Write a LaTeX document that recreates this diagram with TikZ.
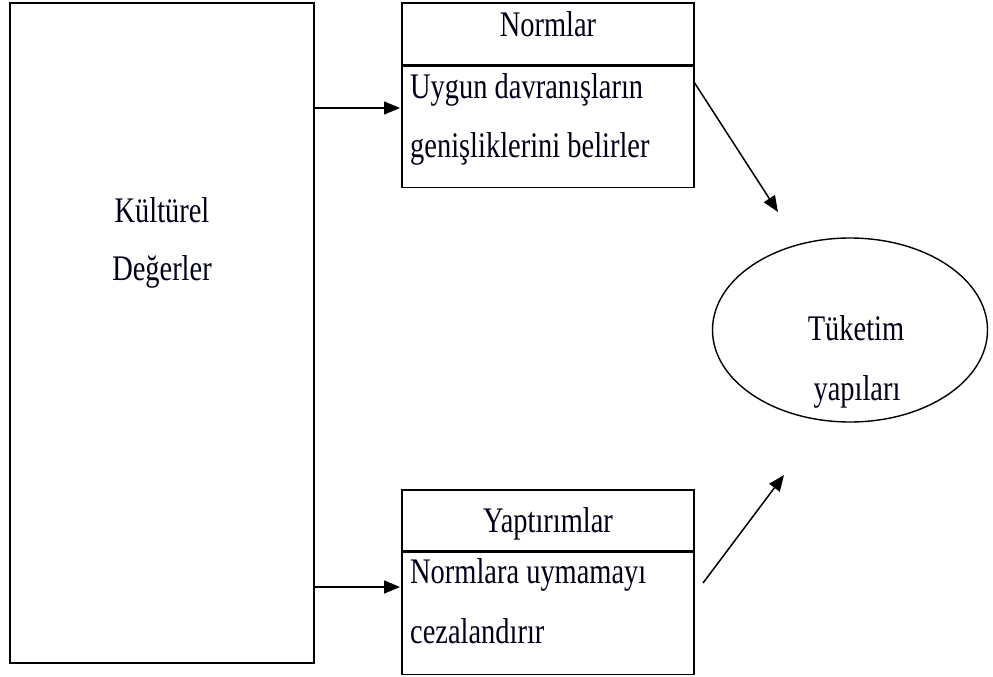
\documentclass[tikz,border=0pt]{standalone}
\usepackage{fontspec}
\setmainfont{Liberation Serif}[FakeStretch=0.79]
\usetikzlibrary{arrows.meta}
\begin{document}
\begin{tikzpicture}[x=1pt,y=-1pt,
  box/.style={draw, line width=1.4pt},
  txt/.style={inner sep=0pt, font=\fontsize{36}{40}\selectfont, text=black!90!blue},
  arr/.style={line width=1.5pt, -{Triangle[length=16pt,width=13pt]}}]
\useasboundingbox (0,0) rectangle (993,677);
% left box
\draw[box] (10,3) rectangle (314,663);
\node[txt, anchor=base] (k1) at (162,222) {Kültürel};
\node[txt, anchor=base] (k2) at (162,280) {Değerler};
% Normlar
\node[box, minimum width=292pt, minimum height=62pt, inner sep=0pt] (nh) at (548,34) {};
\node[box, minimum width=292pt, minimum height=121pt, inner sep=0pt, anchor=north] (nb) at (nh.south) {};
\node[txt, anchor=base] (nt) at (548,37) {Normlar};
\node[txt, anchor=base west] (n1) at (410,98) {Uygun davranışların};
\node[txt, anchor=base west] (n2) at (410,157) {genişliklerini belirler};
% Yaptirimlar
\node[box, minimum width=292pt, minimum height=61pt, inner sep=0pt] (yh) at (548,520.5) {};
\node[box, minimum width=292pt, minimum height=122pt, inner sep=0pt, anchor=north] (yb) at (yh.south) {};
\node[txt, anchor=base] (yt) at (548,532) {Yaptırımlar};
\node[txt, anchor=base west] (y1) at (410,583) {Normlara uymamayı};
\node[txt, anchor=base west] (y2) at (410,643) {cezalandırır};
% ellipse
\draw[line width=1.4pt] (850,330) ellipse [x radius=137.5, y radius=92];
\node[txt, anchor=base] (e1) at (856,340) {Tüketim};
\node[txt, anchor=base] (e2) at (857,400) {yapıları};
% arrows
\coordinate (a1s) at (314,108);
\coordinate (a1e) at (400,108);
\coordinate (a2s) at (314,587);
\coordinate (a2e) at (400,587);
\draw[arr] (a1s) -- (a1e);
\draw[arr] (a2s) -- (a2e);
\coordinate (d1s) at (694,82);
\coordinate (d1e) at (778,212);
\coordinate (d2s) at (703,583);
\coordinate (d2e) at (784,475);
\draw[arr] (d1s) -- (d1e);
\draw[arr] (d2s) -- (d2e);
\end{tikzpicture}
\end{document}
